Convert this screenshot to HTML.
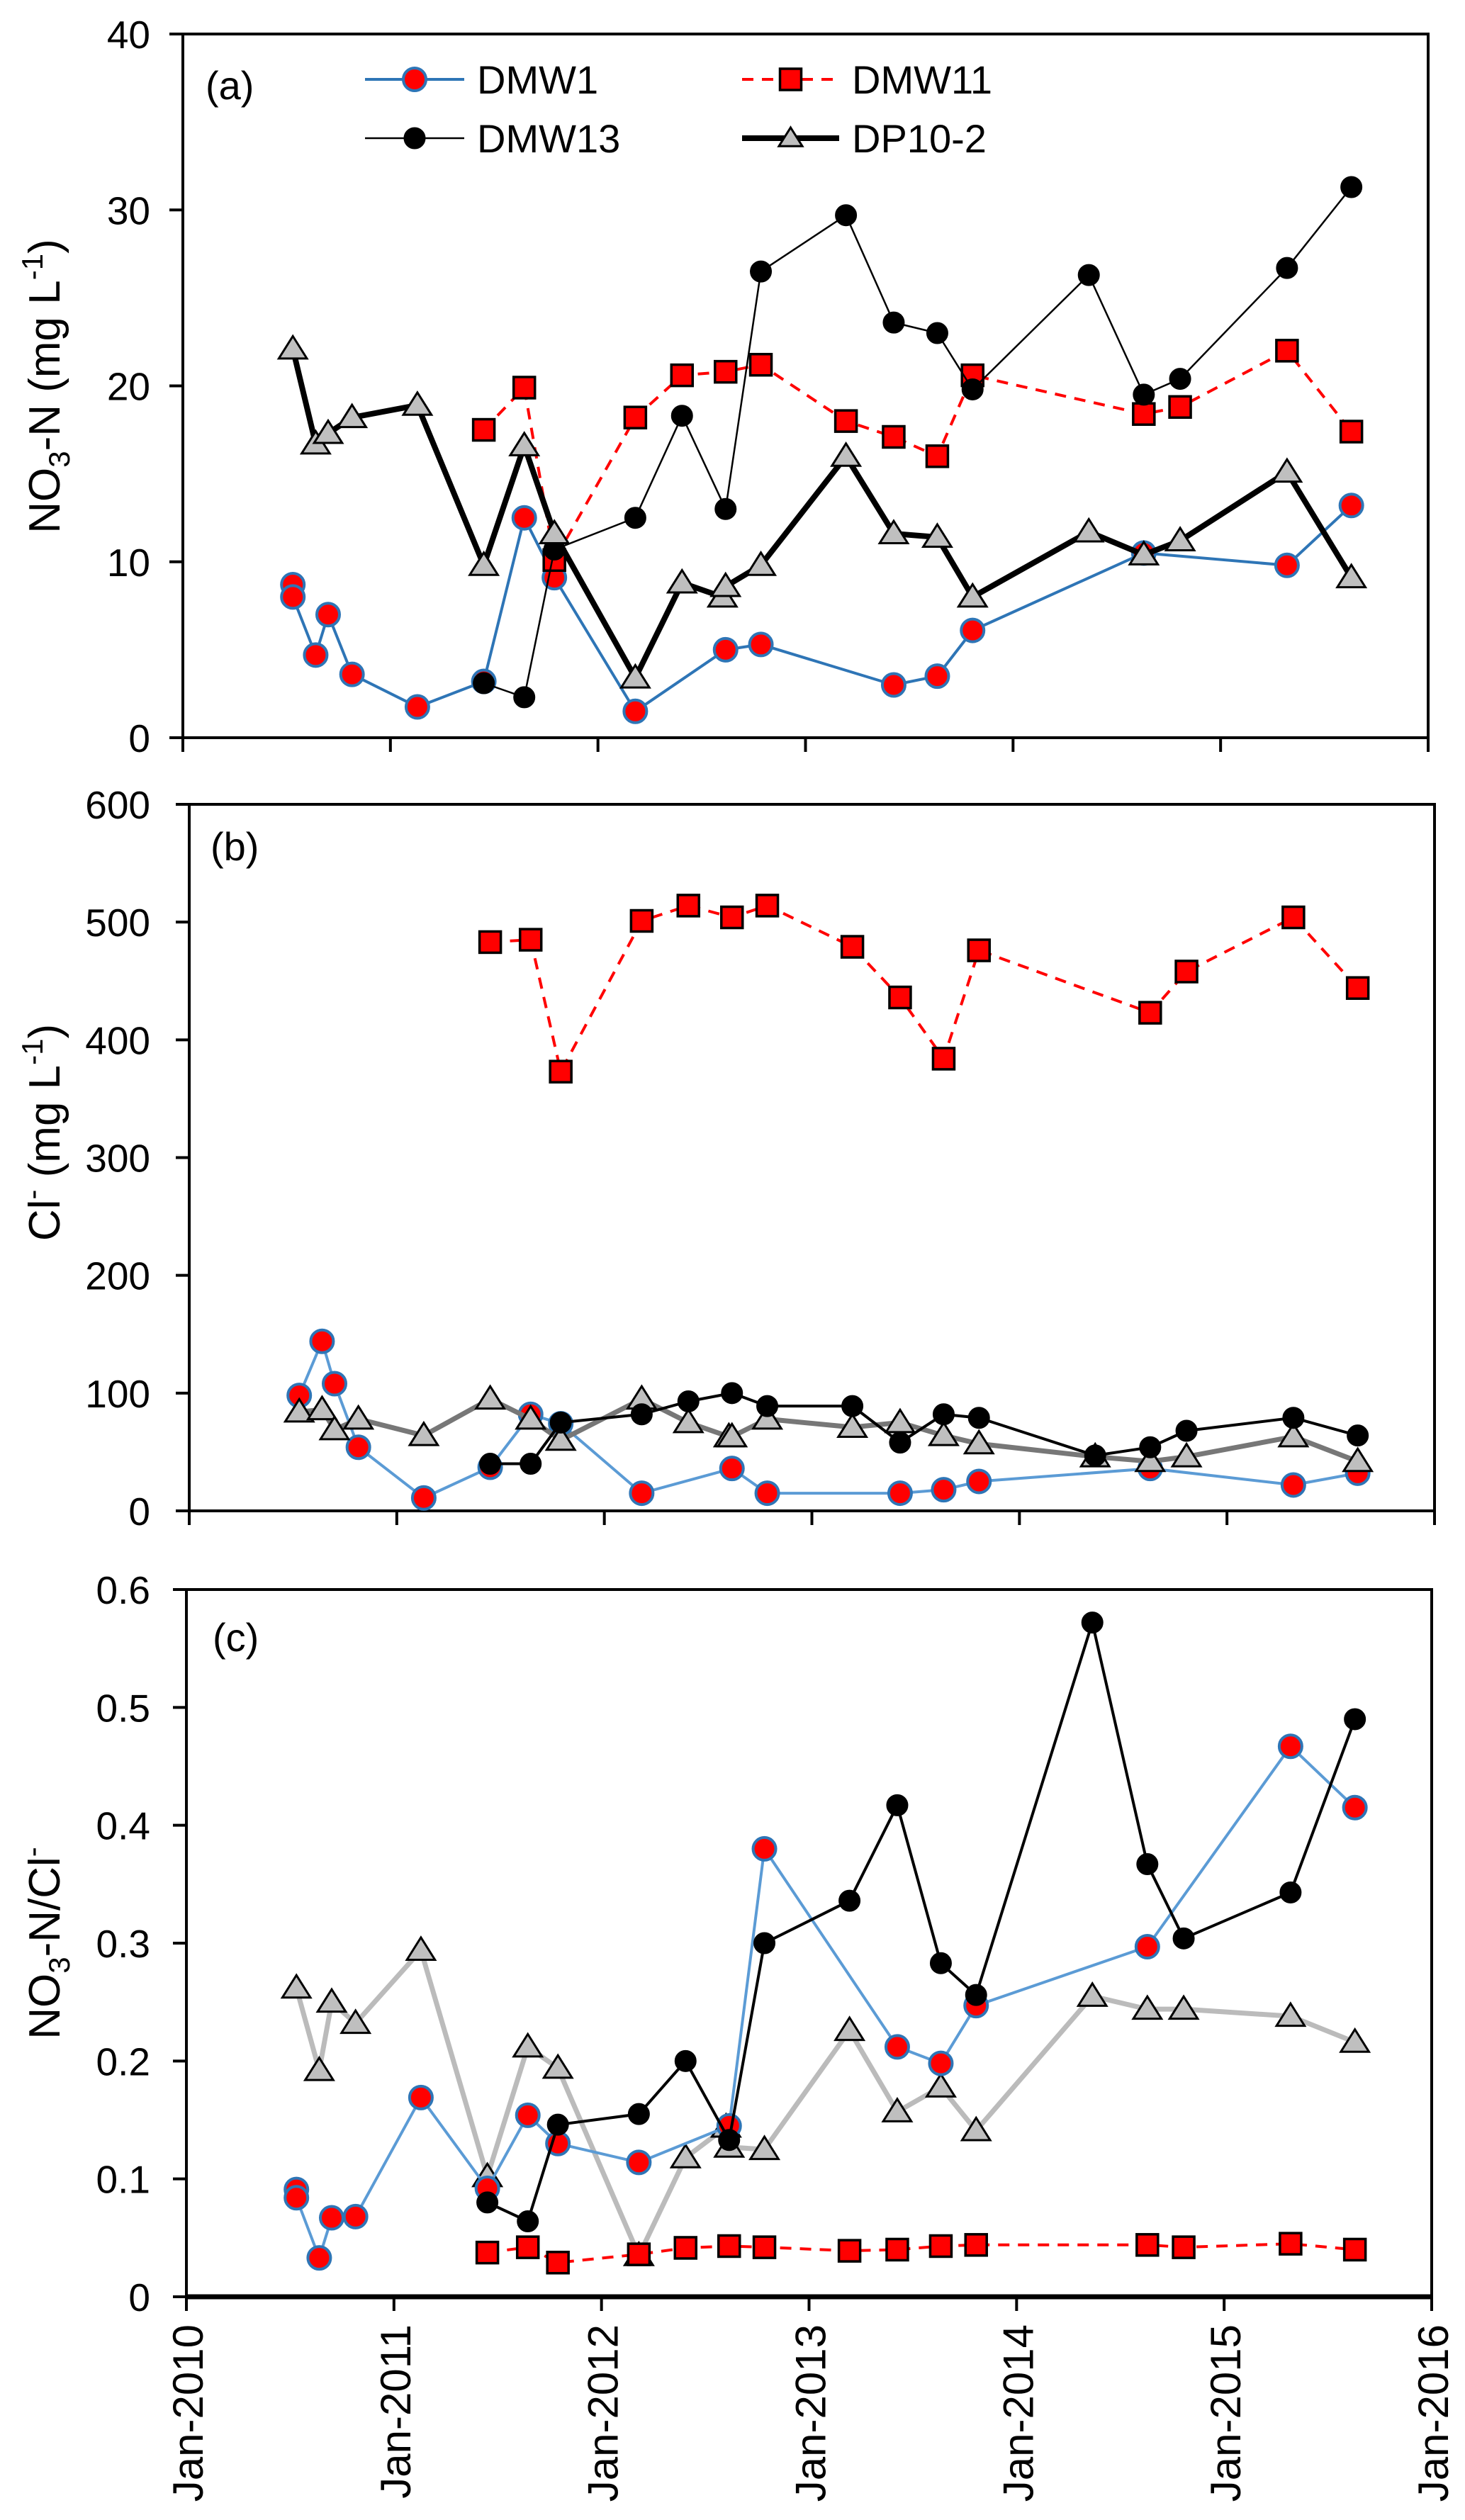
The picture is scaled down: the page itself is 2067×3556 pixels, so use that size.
<!DOCTYPE html>
<html><head><meta charset="utf-8"><style>
html,body{margin:0;padding:0;background:#fff;}
svg{display:block;font-family:"Liberation Sans",Arial,sans-serif;}
</style></head><body>
<svg id="chart" width="2067" height="3556" viewBox="0 0 2067 3556" xmlns="http://www.w3.org/2000/svg">
<rect width="2067" height="3556" fill="#fff"/>
<text transform="translate(84,545) rotate(-90)" text-anchor="middle" font-size="62">NO<tspan font-size="42" dy="14">3</tspan><tspan dy="-14">-N (mg L</tspan><tspan font-size="42" dy="-24">-1</tspan><tspan dy="24">)</tspan></text>
<text transform="translate(84,1598) rotate(-90)" text-anchor="middle" font-size="62">Cl<tspan font-size="42" dy="-24">-</tspan><tspan dy="24"> (mg L</tspan><tspan font-size="42" dy="-24">-1</tspan><tspan dy="24">)</tspan></text>
<text transform="translate(84,2742) rotate(-90)" text-anchor="middle" font-size="62">NO<tspan font-size="42" dy="14">3</tspan><tspan dy="-14">-N/Cl</tspan><tspan font-size="42" dy="-24">-</tspan></text>
<g id="panels"></g>
</svg>
<script>
// ---- data ----
const years = [2010, 2011, 2012, 2013, 2014, 2015, 2016];
const xTickLabels = ["Jan-2010","Jan-2011","Jan-2012","Jan-2013","Jan-2014","Jan-2015","Jan-2016"];
const ticksA = [0, 10, 20, 30, 40];
const ticksB = [0, 100, 200, 300, 400, 500, 600];
const ticksC = [0, 0.1, 0.2, 0.3, 0.4, 0.5, 0.6];

const datesDMW1 = [2010.53,2010.53,2010.64,2010.70,2010.815,2011.13,2011.45,2011.645,2011.79,2012.18,2012.615,2012.785,2013.425,2013.635,2013.805,2014.63,2015.32,2015.63];
const datesDMW1b = [2010.53,2010.64,2010.70,2010.815,2011.13,2011.45,2011.645,2011.79,2012.18,2012.615,2012.785,2013.425,2013.635,2013.805,2014.63,2015.32,2015.63];
const datesDMW11 = [2011.45,2011.645,2011.79,2012.18,2012.405,2012.615,2012.785,2013.195,2013.425,2013.635,2013.805,2014.63,2014.805,2015.32,2015.63];
const datesDMW13 = [2011.45,2011.645,2011.79,2012.18,2012.405,2012.615,2012.785,2013.195,2013.425,2013.635,2013.805,2014.365,2014.63,2014.805,2015.32,2015.63];
const datesDP = [2010.53,2010.64,2010.70,2010.815,2011.13,2011.45,2011.645,2011.79,2012.18,2012.405,2012.60,2012.615,2012.785,2013.195,2013.425,2013.635,2013.805,2014.365,2014.63,2014.805,2015.32,2015.63];

const aDMW1 = [8.7,8.0,4.7,7.0,3.6,1.75,3.2,12.5,9.1,1.5,5.0,5.3,3.0,3.5,6.1,10.5,9.8,13.2];
const aDMW11 = [17.5,19.9,10.1,18.2,20.6,20.8,21.2,18.0,17.1,16.0,20.6,18.4,18.8,22.0,17.4];
const aDMW13 = [3.1,2.3,10.7,12.5,18.3,13.0,26.5,29.7,23.6,23.0,19.8,26.3,19.5,20.4,26.7,31.3];
const aDP = [22.1,16.7,17.3,18.2,18.9,9.8,16.6,11.6,3.4,8.8,8.0,8.6,9.8,16.0,11.6,11.4,8.0,11.7,10.4,11.2,15.1,9.1];

const bDMW1 = [98,144,108,54,11,37,82,74,15,36,15,15,18,25,36,22,32];
const bDMW11 = [483,485,373,501,514,504,514,479,436,384,476,423,458,504,444];
const bDMW13 = [40,40,75,82,93,100,89,89,58,82,79,47,54,68,79,64];
const bDP = [84,86,69,78,64,95,78,60,95,75,63,63,78,71,75,64,57,46,42,46,63,42];

const cDMW1 = [0.091,0.084,0.033,0.067,0.068,0.169,0.092,0.154,0.130,0.114,0.145,0.380,0.212,0.198,0.247,0.297,0.467,0.415];
const cDMW11 = [0.0375,0.042,0.029,0.036,0.0415,0.043,0.042,0.039,0.040,0.043,0.044,0.044,0.042,0.045,0.040];
const cDMW13 = [0.080,0.064,0.146,0.155,0.200,0.133,0.300,0.336,0.417,0.283,0.256,0.572,0.367,0.304,0.343,0.490];
const cDP = [0.262,0.192,0.250,0.232,0.294,0.102,0.212,0.194,0.035,0.118,0.144,0.127,0.125,0.226,0.157,0.178,0.141,0.255,0.244,0.244,0.238,0.216];

// ---- drawing ----
const NS = "http://www.w3.org/2000/svg";
const root = document.getElementById("panels");
function mk(tag, attrs, parent) {
  const e = document.createElementNS(NS, tag);
  for (const k in attrs) e.setAttribute(k, attrs[k]);
  (parent || root).appendChild(e);
  return e;
}

const panels = [
  {id:"a", x0:258, x1:2015, yT:48, yB:1041, max:40, ticks:ticksA, lab:"(a)", labX:290, labY:140,
   series:[
    {name:"DMW1", d:datesDMW1, v:aDMW1, line:"#2E75B6", lw:4, dash:null, mk:"circle", mfill:"#FF0000", mstroke:"#2E75B6", msw:4, r:16},
    {name:"DMW11", d:datesDMW11, v:aDMW11, line:"#FF0000", lw:4, dash:"16,12", mk:"square", mfill:"#FF0000", mstroke:"#000", msw:3.5, r:15},
    {name:"DMW13", d:datesDMW13, v:aDMW13, line:"#000", lw:2.5, dash:null, mk:"circle", mfill:"#000", mstroke:"#000", msw:1, r:15},
    {name:"DP10-2", d:datesDP, v:aDP, line:"#000", lw:8, dash:null, mk:"tri", mfill:"#BFBFBF", mstroke:"#000", msw:3, r:18}
   ]},
  {id:"b", x0:267, x1:2024, yT:1135, yB:2132, max:600, ticks:ticksB, lab:"(b)", labX:297, labY:1214,
   series:[
    {name:"DMW1", d:datesDMW1b, v:bDMW1, line:"#5B9BD5", lw:4, dash:null, mk:"circle", mfill:"#FF0000", mstroke:"#2E75B6", msw:4, r:16},
    {name:"DMW11", d:datesDMW11, v:bDMW11, line:"#FF0000", lw:4, dash:"16,12", mk:"square", mfill:"#FF0000", mstroke:"#000", msw:3.5, r:15},
    {name:"DP10-2", d:datesDP, v:bDP, line:"#777777", lw:7, dash:null, mk:"tri", mfill:"#BFBFBF", mstroke:"#000", msw:3, r:18},
    {name:"DMW13", d:datesDMW13, v:bDMW13, line:"#000", lw:4, dash:null, mk:"circle", mfill:"#000", mstroke:"#000", msw:1, r:15}
   ]},
  {id:"c", x0:263, x1:2020, yT:2243, yB:3241, max:0.6, ticks:ticksC, lab:"(c)", labX:300, labY:2330,
   series:[
    {name:"DP10-2", d:datesDP, v:cDP, line:"#BBBBBB", lw:7, dash:null, mk:"tri", mfill:"#BFBFBF", mstroke:"#000", msw:3, r:18},
    {name:"DMW1", d:datesDMW1, v:cDMW1, line:"#5B9BD5", lw:4, dash:null, mk:"circle", mfill:"#FF0000", mstroke:"#2E75B6", msw:4, r:16},
    {name:"DMW13", d:datesDMW13, v:cDMW13, line:"#000", lw:4, dash:null, mk:"circle", mfill:"#000", mstroke:"#000", msw:1, r:15},
    {name:"DMW11", d:datesDMW11, v:cDMW11, line:"#FF0000", lw:4, dash:"16,12", mk:"square", mfill:"#FF0000", mstroke:"#000", msw:3.5, r:15}
   ]}
];

function drawMarker(g, s, x, y) {
  let m;
  if (s.mk === "circle") {
    m = mk("circle", {cx:x, cy:y, r:s.r, fill:s.mfill, stroke:s.mstroke, "stroke-width":s.msw}, g);
  } else if (s.mk === "square") {
    m = mk("rect", {x:x-s.r, y:y-s.r, width:2*s.r, height:2*s.r, fill:s.mfill, stroke:s.mstroke, "stroke-width":s.msw}, g);
  } else {
    const r = s.r;
    m = mk("polygon", {points:`${x},${y-r} ${x+r*1.1},${y+r*0.75} ${x-r*1.1},${y+r*0.75}`, fill:s.mfill, stroke:s.mstroke, "stroke-width":s.msw, "stroke-linejoin":"miter"}, g);
  }
  return m;
}

panels.forEach(p => {
  const g = mk("g", {});
  
  
  const xs = t => p.x0 + (t - 2010) / 6 * (p.x1 - p.x0);
  const ys = v => p.yB - v / p.max * (p.yB - p.yT);

  const fr = mk("rect", {x:p.x0, y:p.yT, width:p.x1-p.x0, height:p.yB-p.yT, fill:"none", stroke:"#000", "stroke-width":4}, g);
  
  
  if (p.id === "c") {
    const bl = mk("line", {x1:p.x0, y1:p.yB, x2:p.x1, y2:p.yB, stroke:"#000", "stroke-width":7}, g);
    
    
  }
  p.ticks.forEach(t => {
    const y = ys(t);
    const tl = mk("line", {x1:p.x0-19, y1:y, x2:p.x0, y2:y, stroke:"#000", "stroke-width":4}, g);
    
    
    const tx = mk("text", {x:212, y:y+20, "text-anchor":"end", "font-size":55}, g);
    tx.textContent = String(t);
    
    
  });
  years.forEach((yr, i) => {
    const x = xs(yr);
    const tl = mk("line", {x1:x, y1:p.yB, x2:x, y2:p.yB+20, stroke:"#000", "stroke-width":4}, g);
    
    
    if (p.id === "c") {
      const tx = mk("text", {transform:`translate(${x+23},3280) rotate(-90)`, "text-anchor":"end", "font-size":60}, g);
      tx.textContent = xTickLabels[i];
      
      
    }
  });
  const pl = mk("text", {x:p.labX, y:p.labY, "font-size":56}, g);
  pl.textContent = p.lab;
  
  

  p.series.forEach(s => {
    const sg = mk("g", {}, g);
    
    
    const pts = s.d.map((d, i) => xs(d).toFixed(1) + "," + ys(s.v[i]).toFixed(1)).join(" ");
    const attrs = {points:pts, fill:"none", stroke:s.line, "stroke-width":s.lw, "stroke-linejoin":"round"};
    if (s.dash) attrs["stroke-dasharray"] = s.dash;
    const ln = mk("polyline", attrs, sg);
    
    
    s.d.forEach((d, i) => {
      const m = drawMarker(sg, s, xs(d), ys(s.v[i]));
      
      
    });
  });
});

const legendItems = [
  {name:"DMW1", x1:515, x2:655, y:112, line:"#2E75B6", lw:4, dash:null, mk:"circle", mfill:"#FF0000", mstroke:"#2E75B6", msw:4, r:16},
  {name:"DMW11", x1:1047, x2:1184, y:112, line:"#FF0000", lw:4, dash:"16,12", mk:"square", mfill:"#FF0000", mstroke:"#000", msw:3.5, r:15},
  {name:"DMW13", x1:515, x2:655, y:195, line:"#000", lw:2.5, dash:null, mk:"circle", mfill:"#000", mstroke:"#000", msw:1, r:15},
  {name:"DP10-2", x1:1047, x2:1184, y:195, line:"#000", lw:8, dash:null, mk:"tri", mfill:"#BFBFBF", mstroke:"#000", msw:3, r:15}
];
const lg = mk("g", {});


legendItems.forEach(it => {
  const eg = mk("g", {}, lg);
  
  
  const a = {x1:it.x1, y1:it.y, x2:it.x2, y2:it.y, stroke:it.line, "stroke-width":it.lw};
  if (it.dash) a["stroke-dasharray"] = it.dash;
  mk("line", a, eg);
  drawMarker(eg, it, (it.x1 + it.x2) / 2, it.y);
  const t = mk("text", {x:it.x2 + 18, y:it.y + 20, "font-size":56}, eg);
  t.textContent = it.name;
});
</script>
</body></html>
